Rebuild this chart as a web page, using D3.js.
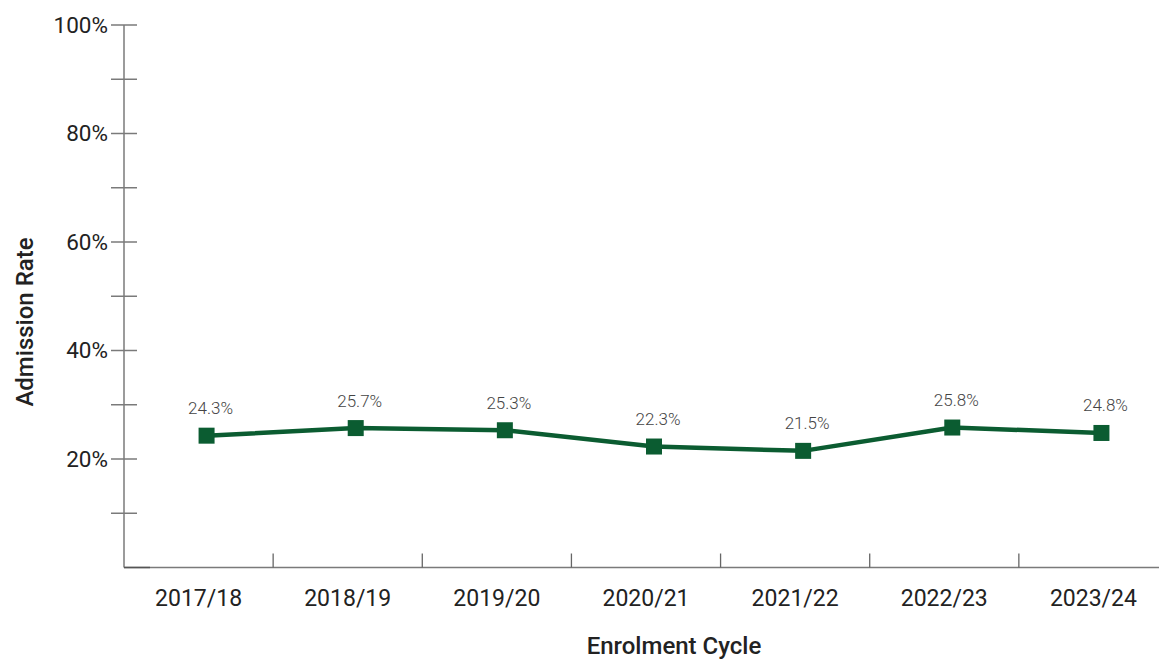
<!DOCTYPE html>
<html>
<head>
<meta charset="utf-8">
<script src="https://cdn.jsdelivr.net/npm/d3@7"></script>
<style>
  html, body { margin: 0; padding: 0; background: #fff; }
  svg { display: block; font-family: Roboto, "Open Sans", sans-serif; }
</style>
</head>
<body>
<svg id="chart" width="1159" height="660"></svg>
<script>
// Admission rate by enrolment cycle
const cycles = ["2017/18", "2018/19", "2019/20", "2020/21", "2021/22", "2022/23", "2023/24"];
const admissionRate = [24.3, 25.7, 25.3, 22.3, 21.5, 25.8, 24.8];
const yTickValues = [0, 10, 20, 30, 40, 50, 60, 70, 80, 90, 100];
const yLabelValues = [20, 40, 60, 80, 100];

const svg = d3.select("#chart");
const plotLeft = 124, plotRight = 1168, plotTop = 25, plotBottom = 567.5;
const green = "#0b5c31";
const axisColor = "#7a7a7a";

const x = d3.scaleBand().domain(cycles).range([plotLeft, plotRight]);
const y = d3.scaleLinear().domain([0, 100]).range([plotBottom, plotTop]);
const px = c => x(c) + x.bandwidth() / 2 + 8;

// Y axis: line, crossing ticks every 10%, labels every 20%
const yAxis = svg.append("g");
yAxis.append("line")
  .attr("x1", plotLeft).attr("x2", plotLeft)
  .attr("y1", y(100)).attr("y2", y(0))
  .attr("stroke", axisColor).attr("stroke-width", 1.5);
yAxis.selectAll("line.tick")
  .data(yTickValues.filter(v => v > 0))
  .join("line").attr("class", "tick")
  .attr("x1", plotLeft - 13).attr("x2", plotLeft + 13)
  .attr("y1", d => y(d)).attr("y2", d => y(d))
  .attr("stroke", axisColor).attr("stroke-width", 1.5);
yAxis.selectAll("text")
  .data(yLabelValues)
  .join("text")
  .attr("x", plotLeft - 16).attr("y", d => y(d))
  .attr("dy", "0.35em")
  .attr("text-anchor", "end")
  .attr("font-size", 22.5)
  .attr("fill", "#222")
  .text(d => d + "%");

// X axis: baseline with short upward ticks between cycles
const xAxis = svg.append("g");
xAxis.append("line")
  .attr("x1", plotLeft).attr("x2", 1159)
  .attr("y1", plotBottom).attr("y2", plotBottom)
  .attr("stroke", axisColor).attr("stroke-width", 1.5);
xAxis.append("line")
  .attr("x1", plotLeft).attr("x2", plotLeft + 26)
  .attr("y1", plotBottom).attr("y2", plotBottom)
  .attr("stroke", "#555").attr("stroke-width", 1.5);
xAxis.selectAll("line.tick")
  .data(cycles.slice(1))
  .join("line").attr("class", "tick")
  .attr("x1", d => x(d)).attr("x2", d => x(d))
  .attr("y1", plotBottom - 14).attr("y2", plotBottom)
  .attr("stroke", "#666").attr("stroke-width", 1.3);
xAxis.selectAll("text")
  .data(cycles)
  .join("text")
  .attr("x", d => x(d) + x.bandwidth() / 2)
  .attr("y", 606)
  .attr("text-anchor", "middle")
  .attr("font-size", 23)
  .attr("fill", "#222")
  .text(d => d);

// Axis titles
svg.append("text")
  .attr("transform", "translate(33,322) rotate(-90)")
  .attr("text-anchor", "middle")
  .attr("font-size", 24)
  .attr("font-weight", 500)
  .attr("fill", "#222")
  .text("Admission Rate");
svg.append("text")
  .attr("x", 674).attr("y", 654)
  .attr("text-anchor", "middle")
  .attr("font-size", 24)
  .attr("font-weight", 500)
  .attr("fill", "#222")
  .text("Enrolment Cycle");

// Series line
const points = cycles.map((c, i) => ({ c, v: admissionRate[i] }));
svg.append("path")
  .datum(points)
  .attr("fill", "none")
  .attr("stroke", green)
  .attr("stroke-width", 4.5)
  .attr("stroke-linejoin", "round")
  .attr("d", d3.line().x(d => px(d.c)).y(d => y(d.v)));

// Square markers
const m = 16;
svg.selectAll("rect.marker")
  .data(points)
  .join("rect").attr("class", "marker")
  .attr("x", d => px(d.c) - m / 2)
  .attr("y", d => y(d.v) - m / 2)
  .attr("width", m).attr("height", m)
  .attr("fill", green);

// Value labels
svg.selectAll("text.value")
  .data(points)
  .join("text").attr("class", "value")
  .attr("x", d => px(d.c) + 4)
  .attr("y", d => y(d.v) - 21.5)
  .attr("text-anchor", "middle")
  .attr("font-size", 17)
  .attr("font-weight", 300)
  .attr("fill", "#444")
  .text(d => d.v.toFixed(1) + "%");
</script>
</body>
</html>
